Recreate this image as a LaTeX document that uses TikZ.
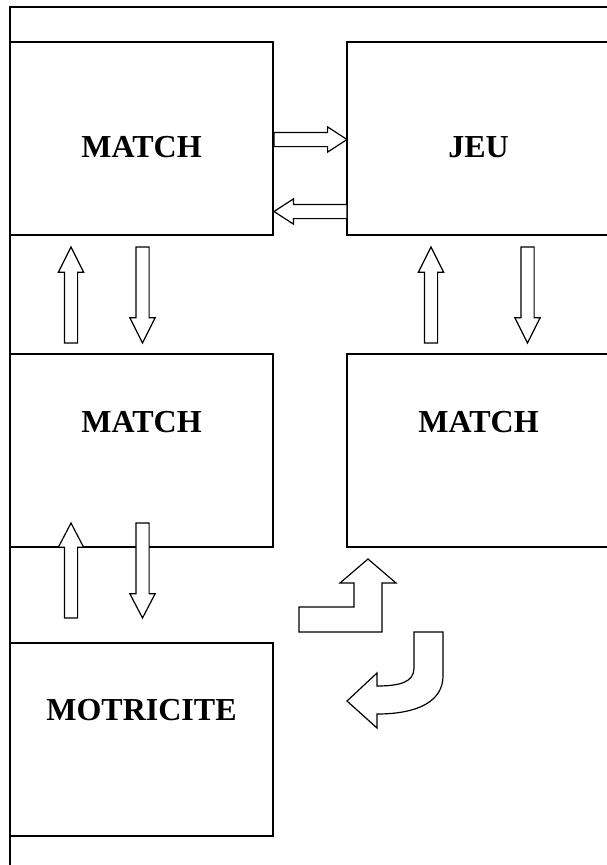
\documentclass[tikz,border=0pt]{standalone}
\usepackage{fontspec}
\setmainfont{Liberation Serif}
\usetikzlibrary{positioning,calc,shapes.arrows}

\begin{document}
\begin{tikzpicture}[x=1pt, y=1pt, line width=1.2pt,
  block/.style={draw, minimum width=263pt, minimum height=193pt, inner sep=0pt, outer sep=0pt},
  boxtext/.style={font=\fontsize{32}{38}\selectfont\bfseries, anchor=base, inner sep=0pt},
  vbar/.style={single arrow, draw, fill=white, inner sep=6pt, outer sep=0pt, anchor=tip,
    single arrow head extend=6pt, minimum height=96pt, single arrow tip angle=53},
  hbar/.style={single arrow, draw, fill=white, inner sep=6.5pt, outer sep=0pt, anchor=tip,
    single arrow head extend=5.5pt, minimum height=73pt, single arrow tip angle=66}]

  \useasboundingbox (0,0) rectangle (606,-865);

  % Frame
  \draw (615,-7) -- (10,-7) -- (10,-870);

  % First row
  \node[block] (A1) at (141.5,-138.5) {};
  \node[block, right=74pt of A1] (A2) {};

  % Second row
  \node[block, below=119pt of A1] (B1) {};
  \node[block, right=74pt of B1] (B2) {};

  % Third row
  \node[block, below=96pt of B1] (C1) {};

  % Labels
  \node[boxtext] (tA1) at ($(A1.north)+(0,-115)$) {MATCH};
  \node[boxtext] (tA2) at ($(A2.north)+(0,-115)$) {JEU};
  \node[boxtext] (tB1) at ($(B1.north)+(0,-78)$) {MATCH};
  \node[boxtext] (tB2) at ($(B2.north)+(0,-78)$) {MATCH};
  \node[boxtext] (tC1) at ($(C1.north)+(0,-77)$) {MOTRICITE};

  % Horizontal arrows (placed by their tips)
  \node[hbar] (R1) at ($(A2.west)+(0,-1)$) {};
  \node[hbar, shape border rotate=180] (L1) at ($(A1.east)+(1,-73)$) {};

  % Vertical arrows
  \node[vbar, shape border rotate=90] (U1) at ($(A1.south)+(-70.5,-12)$) {};
  \node[vbar, shape border rotate=270] (D1) at ($(B1.north)+(1,11)$) {};
  \node[vbar, shape border rotate=90] (U2) at ($(A2.south)+(-47.5,-12)$) {};
  \node[vbar, shape border rotate=270] (D2) at ($(B2.north)+(49,11)$) {};
  \node[vbar, minimum height=95pt, single arrow tip angle=55, shape border rotate=90] (U3) at ($(B1.south)+(-70.5,24)$) {};
  \node[vbar, minimum height=95pt, single arrow tip angle=55, shape border rotate=270] (D3) at ($(C1.north)+(1,25)$) {};

  % Bent arrows
  \draw[fill=white] (299,-607) -- (354,-607) -- (354,-583) -- (340,-583) -- (368,-559) -- (396,-583)
    -- (382,-583) -- (382,-632) -- (299,-632) -- cycle;
  \draw[fill=white] (414,-632) -- (443,-632) -- (443,-676) .. controls (443,-700) and (420,-714) .. (377,-714)
    -- (377,-728) -- (347,-701) -- (377,-673) -- (377,-686) .. controls (400,-686) and (414,-682) .. (414,-668) -- cycle;

\end{tikzpicture}
\end{document}
